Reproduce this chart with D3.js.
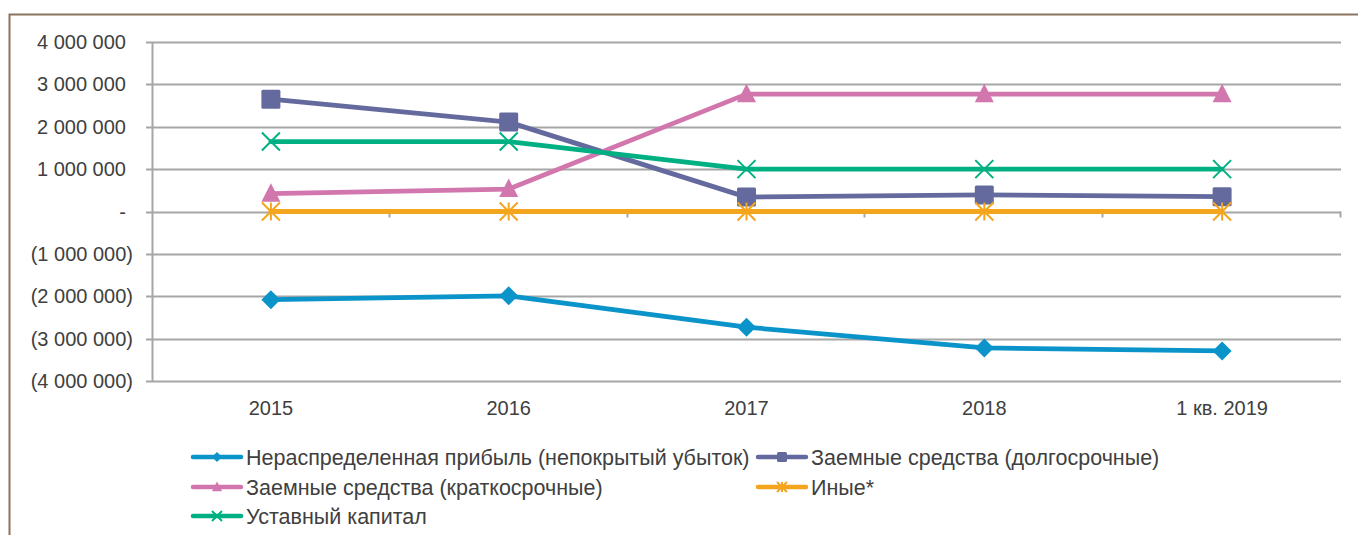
<!DOCTYPE html>
<html><head><meta charset="utf-8">
<script src="https://cdn.jsdelivr.net/npm/d3@7"></script>
<style>html,body{margin:0;padding:0;background:#fff;}svg{display:block;}</style>
</head><body>
<svg id="chart" width="1358" height="535"></svg>
<script>
const categories = ["2015", "2016", "2017", "2018", "1 кв. 2019"];
const seriesNames = ["Нераспределенная прибыль (непокрытый убыток)", "Заемные средства (долгосрочные)", "Заемные средства (краткосрочные)", "Иные*", "Уставный капитал"];
const retained = [-2080000, -1990000, -2730000, -3220000, -3290000];
const longLoans = [2650000, 2110000, 340000, 390000, 350000];
const shortLoans = [420000, 530000, 2770000, 2770000, 2770000];
const other = [0, 0, 0, 0, 0];
const capital = [1650000, 1650000, 1000000, 1000000, 1000000];
const yTicks = [-4000000, -3000000, -2000000, -1000000, 0, 1000000, 2000000, 3000000, 4000000];

const colors = ["#0A94C9", "#656A9E", "#D276AE", "#F4A51E", "#00B083"];
const markers = ["diamond", "square", "triangle", "asterisk", "cross"];
const values = [retained, longLoans, shortLoans, other, capital];

const svg = d3.select("#chart");
const font = "'Liberation Sans', Arial, sans-serif";
const textColor = "#404040";

// outer frame
svg.append("path").attr("d", "M9.5,540 L9.5,14.5 L1365,14.5")
  .attr("fill", "none").attr("stroke", "#8C7560").attr("stroke-width", 2);

const x = d3.scaleBand().domain(categories).range([152, 1341]).padding(0);
const y = d3.scaleLinear().domain([-4000000, 4000000]).range([381, 42]);

// gridlines
svg.append("g").selectAll("line").data(yTicks).join("line")
  .attr("x1", 146).attr("x2", 1341)
  .attr("y1", d => Math.round(y(d)) + 0.5).attr("y2", d => Math.round(y(d)) + 0.5)
  .attr("stroke", "#A6A6A6").attr("stroke-width", 2);

// y axis line
svg.append("line").attr("x1", 152.5).attr("x2", 152.5).attr("y1", y(4000000)).attr("y2", y(-4000000) + 1)
  .attr("stroke", "#A6A6A6").attr("stroke-width", 2);

// x-axis category boundary ticks
const bounds = categories.map(c => x(c) + x.bandwidth());
svg.append("g").selectAll("line").data(bounds).join("line")
  .attr("x1", d => Math.round(d) - 0.5).attr("x2", d => Math.round(d) - 0.5)
  .attr("y1", y(0)).attr("y2", y(0) + 6)
  .attr("stroke", "#A6A6A6").attr("stroke-width", 2);

// y labels
const fmtNum = v => d3.format(",")(Math.abs(v)).replace(/,/g, " ");
svg.append("g").selectAll("text").data(yTicks).join("text")
  .attr("x", d => d < 0 ? 133 : 126)
  .attr("y", d => y(d) + 7)
  .attr("text-anchor", "end")
  .attr("font-family", font).attr("font-size", 20).attr("fill", textColor)
  .text(d => d === 0 ? "-" : (d < 0 ? "(" + fmtNum(d) + ")" : fmtNum(d)));

// x labels
svg.append("g").selectAll("text").data(categories).join("text")
  .attr("x", d => x(d) + x.bandwidth() / 2)
  .attr("y", 415)
  .attr("text-anchor", "middle")
  .attr("font-family", font).attr("font-size", 20).attr("fill", textColor)
  .text(d => d);

function drawMarker(g, type, cx, cy, color, s) {
  if (type === "diamond") {
    g.append("path").attr("d", `M${cx},${cy - s}L${cx + s},${cy}L${cx},${cy + s}L${cx - s},${cy}Z`).attr("fill", color);
  } else if (type === "square") {
    g.append("rect").attr("x", cx - s).attr("y", cy - s).attr("width", 2 * s).attr("height", 2 * s).attr("rx", 1.5).attr("fill", color);
  } else if (type === "triangle") {
    g.append("path").attr("d", `M${cx},${cy - s * 1.1}L${cx + s},${cy + s * 0.85}L${cx - s},${cy + s * 0.85}Z`).attr("fill", color);
  } else if (type === "cross") {
    g.append("path").attr("d", `M${cx - s},${cy - s}L${cx + s},${cy + s}M${cx - s},${cy + s}L${cx + s},${cy - s}`).attr("stroke", color).attr("stroke-width", 2);
  } else if (type === "asterisk") {
    g.append("path").attr("d", `M${cx - s},${cy - s}L${cx + s},${cy + s}M${cx - s},${cy + s}L${cx + s},${cy - s}M${cx},${cy - s}L${cx},${cy + s}`).attr("stroke", color).attr("stroke-width", 2);
  }
}
const markerSize = { diamond: 9.5, square: 9.5, triangle: 9.5, cross: 9, asterisk: 9 };

const line = d3.line().x((d, i) => x(categories[i]) + x.bandwidth() / 2).y(d => y(d));
values.forEach((vals, si) => {
  const g = svg.append("g");
  g.append("path").datum(vals).attr("d", line)
    .attr("fill", "none").attr("stroke", colors[si]).attr("stroke-width", 4.8)
    .attr("stroke-linejoin", "round").attr("stroke-linecap", "round");
  vals.forEach((v, i) => {
    drawMarker(g, markers[si], x(categories[i]) + x.bandwidth() / 2, y(v), colors[si], markerSize[markers[si]]);
  });
});

// legend
const legendPos = [[193, 457], [758, 457], [193, 487], [758, 487], [193, 516]];
seriesNames.forEach((name, si) => {
  const [lx, ly] = legendPos[si];
  const g = svg.append("g");
  g.append("line").attr("x1", lx).attr("x2", lx + 48).attr("y1", ly).attr("y2", ly)
    .attr("stroke", colors[si]).attr("stroke-width", 4.5).attr("stroke-linecap", "round");
  drawMarker(g, markers[si], lx + 24, ly, colors[si], 5);
  g.append("text").attr("x", lx + 53).attr("y", ly + 7.5)
    .attr("font-family", font).attr("font-size", 21.5).attr("fill", textColor)
    .text(name);
});
</script>
</body></html>
